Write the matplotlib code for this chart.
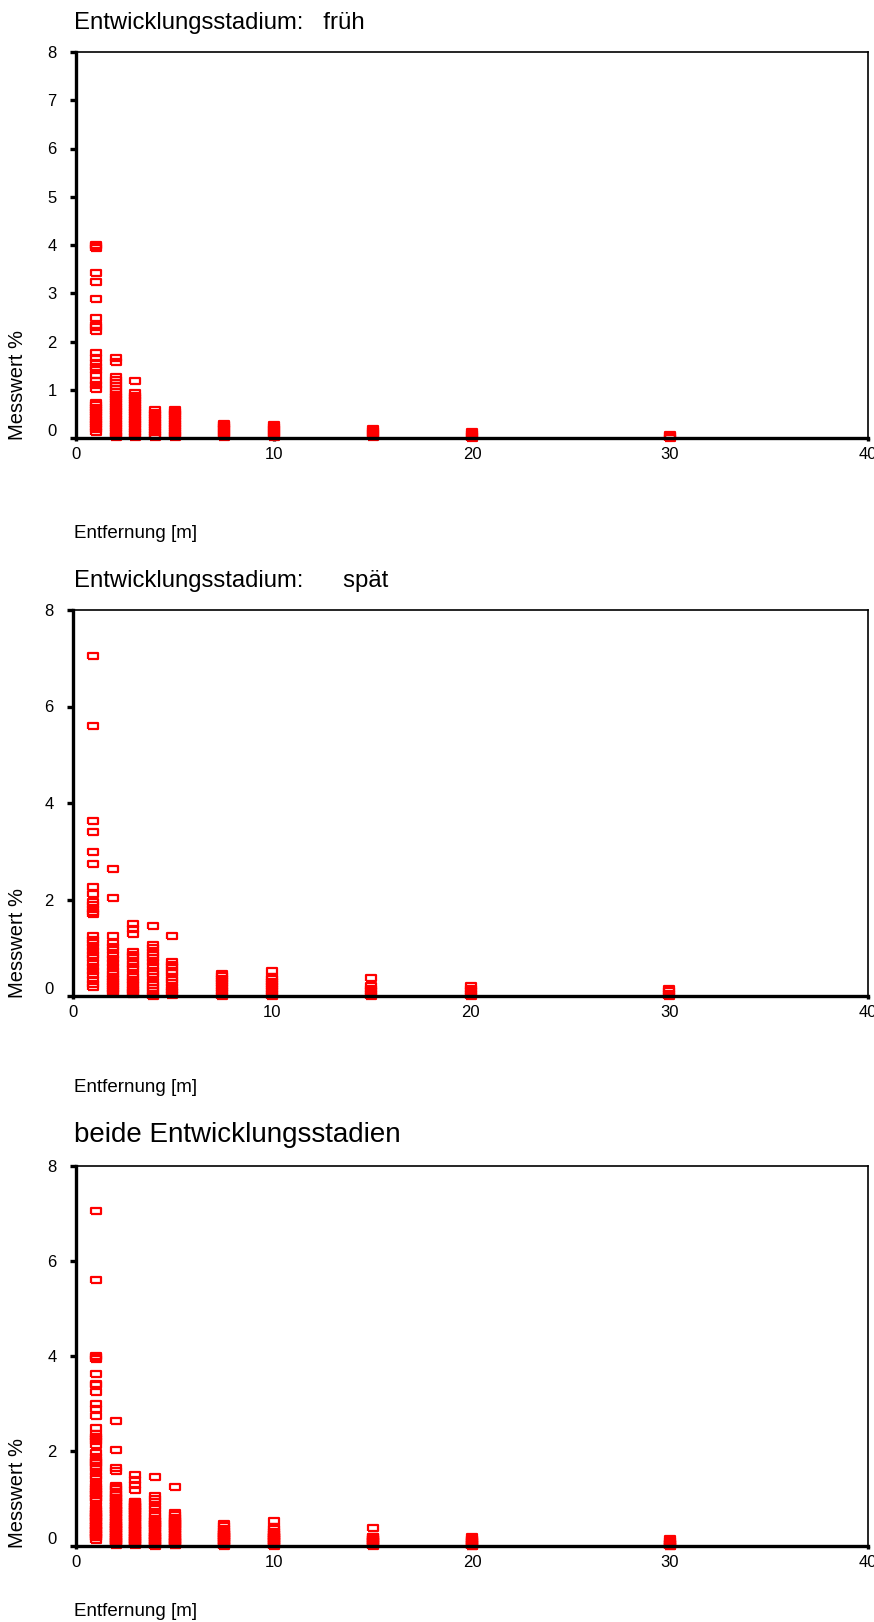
import matplotlib
matplotlib.use("Agg")
import matplotlib.pyplot as plt
import matplotlib.transforms as mtransforms

plt.rcParams['font.family'] = ['Liberation Sans', 'DejaVu Sans']

# Distances [m]
distances = [1, 2, 3, 4, 5, 7.5, 10, 15, 20, 30]

# Messwert % per distance, early stage (frueh)
frueh_d1 = [4.0, 3.97, 3.93, 3.41, 3.24, 2.89, 2.49, 2.35, 2.3, 2.22, 1.77, 1.65, 1.55, 1.48,
            1.41, 1.3, 1.19, 1.1, 1.02, 0.73, 0.68, 0.63, 0.58, 0.53, 0.48, 0.43, 0.38, 0.33,
            0.28, 0.23, 0.18, 0.13]
frueh_d2 = [1.65, 1.57, 1.26, 1.2, 1.14, 1.08, 1.01, 0.95, 0.9, 0.85, 0.8, 0.75, 0.7, 0.65,
            0.6, 0.55, 0.5, 0.45, 0.4, 0.35, 0.3, 0.25, 0.2, 0.15, 0.1, 0.05, 0.02]
frueh_d3 = [1.18, 0.93, 0.88, 0.83, 0.78, 0.73, 0.68, 0.63, 0.58, 0.53, 0.48, 0.43, 0.38,
            0.33, 0.28, 0.23, 0.18, 0.13, 0.08, 0.03]
frueh_d4 = [0.57, 0.52, 0.47, 0.42, 0.37, 0.32, 0.27, 0.22, 0.17, 0.12, 0.07, 0.02]
frueh_d5 = [0.57, 0.53, 0.49, 0.45, 0.4, 0.35, 0.3, 0.25, 0.2, 0.15, 0.1, 0.06, 0.02]
frueh_d7_5 = [0.3, 0.26, 0.22, 0.18, 0.14, 0.1, 0.06, 0.02]
frueh_d10 = [0.26, 0.22, 0.18, 0.14, 0.1, 0.06, 0.02]
frueh_d15 = [0.18, 0.14, 0.1, 0.06, 0.02]
frueh_d20 = [0.12, 0.08, 0.04, 0.01]
frueh_d30 = [0.07, 0.04, 0.01]

# Messwert % per distance, late stage (spaet)
spaet_d1 = [7.05, 5.59, 3.62, 3.39, 2.98, 2.73, 2.26, 2.12, 1.95, 1.88, 1.81, 1.74, 1.69,
            1.24, 1.16, 1.09, 1.02, 0.94, 0.85, 0.78, 0.69, 0.61, 0.52, 0.43, 0.33, 0.25, 0.19]
spaet_d2 = [2.64, 2.03, 1.25, 1.09, 1.02, 0.95, 0.84, 0.76, 0.69, 0.61, 0.51, 0.45, 0.4,
            0.35, 0.3, 0.25, 0.2, 0.15, 0.1, 0.06]
spaet_d3 = [1.49, 1.38, 1.28, 0.92, 0.85, 0.8, 0.73, 0.67, 0.6, 0.55, 0.45, 0.4, 0.33, 0.28,
            0.22, 0.17, 0.12, 0.08, 0.04]
spaet_d4 = [1.45, 1.05, 0.99, 0.92, 0.85, 0.78, 0.7, 0.63, 0.52, 0.46, 0.4, 0.28, 0.22,
            0.16, 0.1, 0.05, 0.01]
spaet_d5 = [1.25, 0.7, 0.65, 0.6, 0.52, 0.47, 0.4, 0.33, 0.26, 0.19, 0.13, 0.08, 0.03]
spaet_d7_5 = [0.46, 0.42, 0.36, 0.31, 0.26, 0.21, 0.16, 0.11, 0.06, 0.01]
spaet_d10 = [0.52, 0.4, 0.35, 0.3, 0.25, 0.2, 0.15, 0.1, 0.05, 0.01]
spaet_d15 = [0.38, 0.2, 0.15, 0.1, 0.05, 0.01]
spaet_d20 = [0.2, 0.15, 0.1, 0.05, 0.01]
spaet_d30 = [0.15, 0.1, 0.05, 0.01]

frueh = [frueh_d1, frueh_d2, frueh_d3, frueh_d4, frueh_d5,
         frueh_d7_5, frueh_d10, frueh_d15, frueh_d20, frueh_d30]
spaet = [spaet_d1, spaet_d2, spaet_d3, spaet_d4, spaet_d5,
         spaet_d7_5, spaet_d10, spaet_d15, spaet_d20, spaet_d30]


def flatten(groups):
    xs, ys = [], []
    for d, vals in zip(distances, groups):
        xs += [d] * len(vals)
        ys += vals
    return xs, ys


x_frueh, y_frueh = flatten(frueh)
x_spaet, y_spaet = flatten(spaet)
x_beide = x_frueh + x_spaet
y_beide = y_frueh + y_spaet

W, H = 874, 1622
fig = plt.figure(figsize=(W / 100, H / 100), dpi=100)

# rectangular open marker (wider than tall)
rect = [(-1, -0.6), (1, -0.6), (1, 0.6), (-1, 0.6), (-1, -0.6)]

panels = [
    # (x, y, yticks, title, title size, left px, top px, bottom px, title baseline px, xlabel px)
    (x_frueh, y_frueh, range(0, 9), "Entwicklungsstadium:   früh", 17.2, 76, 52, 438, 29, 533),
    (x_spaet, y_spaet, range(0, 9, 2), "Entwicklungsstadium:      spät", 17.2, 73, 610, 996, 587, 1088),
    (x_beide, y_beide, range(0, 9, 2), "beide Entwicklungsstadien", 20, 76, 1166, 1546, 1142, 1612),
]

for xs, ys, yt, title, tsize, left, top, bottom, tbase, xlab in panels:
    ax = fig.add_axes([left / W, 1 - bottom / H, (868 - left) / W, (bottom - top) / H])
    ax.plot(xs, ys, linestyle='none', marker=rect, ms=7, mfc='none', mec='#ff0000',
            mew=1.6, clip_on=False)
    ax.set_xlim(0, 40)
    ax.set_ylim(0, 8)
    ax.set_xticks([0, 10, 20, 30, 40])
    ax.set_yticks(list(yt))
    for side in ['left', 'bottom']:
        ax.spines[side].set_linewidth(2.4)
    for side in ['top', 'right']:
        ax.spines[side].set_linewidth(1.2)
    ax.tick_params(axis='y', direction='out', length=4, width=2.4, pad=10, labelsize=12)
    ax.tick_params(axis='x', direction='out', length=2.5, width=2.4, pad=4, labelsize=12)
    # the "0" on the y axis sits a little higher, as in the original
    lab0 = ax.get_yticklabels()[0]
    lab0.set_transform(lab0.get_transform() +
                       mtransforms.ScaledTranslation(0, 6 / 72, fig.dpi_scale_trans))

    fig.text(74 / W, 1 - tbase / H, title, fontsize=tsize, ha='left', va='baseline')
    fig.text(18 / W, 1 - (bottom + 2) / H, "Messwert %", fontsize=14.5, rotation=90,
             ha='center', va='bottom')
    fig.text(74 / W, 1 - xlab / H, "Entfernung [m]", fontsize=13.5, ha='left', va='center')

fig.savefig("out.png", dpi=100)
